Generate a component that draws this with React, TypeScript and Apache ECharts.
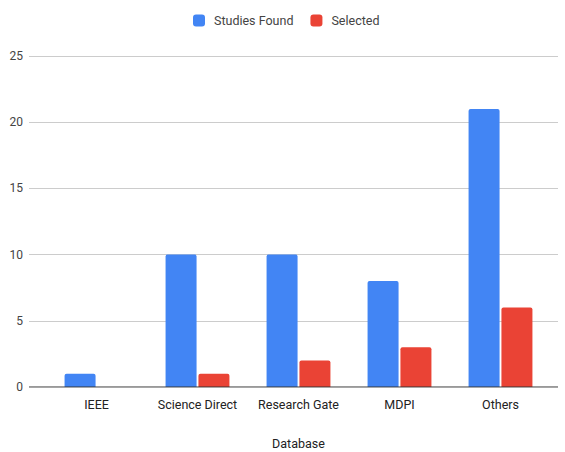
import React, { useEffect, useRef } from "react";
import * as echarts from "echarts";

const categories = ["IEEE", "Science Direct", "Research Gate", "MDPI", "Others"];
const studiesFound = [1, 10, 10, 8, 21];
const selected = [0, 1, 2, 3, 6];
const yMin = 0;
const yMax = 25;
const yInterval = 5;

export default function App() {
  const ref = useRef<HTMLDivElement>(null);
  useEffect(() => {
    if (!ref.current) return;
    const chart = echarts.init(ref.current, undefined, { renderer: "svg" });
    const font = "Roboto, Arial, sans-serif";
    chart.setOption({
      animation: false,
      backgroundColor: "#ffffff",
      textStyle: { fontFamily: font },
      legend: {
        top: 14,
        left: 193,
        padding: 0,
        itemWidth: 12,
        itemHeight: 12,
        itemGap: 17,
        icon: "roundRect",
        textStyle: { fontSize: 12.5, color: "#444444", fontFamily: font, padding: [0, 0, 0, 4] },
        data: ["Studies Found", "Selected"],
      },
      grid: [
        { left: 29, right: 7, top: 56, bottom: 65, containLabel: false, outerBoundsMode: "none" },
        { left: 46, right: 14, top: 56, bottom: 65, containLabel: false, outerBoundsMode: "none" },
      ],
      xAxis: [
        {
          type: "value",
          gridIndex: 0,
          min: 0,
          max: 1,
          axisLine: { show: false },
          axisTick: { show: false },
          axisLabel: { show: false },
          splitLine: { show: false },
        },
        {
          type: "category",
          gridIndex: 1,
          data: categories,
          axisLine: { show: false },
          axisTick: { show: false },
          axisLabel: { interval: 0, fontSize: 12.5, color: "#222222", margin: 11, fontFamily: font },
          name: "Database",
          nameLocation: "middle",
          nameGap: 50,
          nameTextStyle: { fontSize: 12.5, color: "#222222", fontFamily: font },
        },
      ],
      yAxis: [
        {
          type: "value",
          gridIndex: 0,
          min: yMin,
          max: yMax,
          interval: yInterval,
          axisLine: { show: false },
          axisTick: { show: false },
          axisLabel: { fontSize: 12, color: "#444444", margin: 6, fontFamily: font },
          splitLine: { lineStyle: { color: "#cccccc", width: 1 } },
        },
        {
          type: "value",
          gridIndex: 1,
          min: yMin,
          max: yMax,
          interval: yInterval,
          axisLine: { show: false },
          axisTick: { show: false },
          axisLabel: { show: false },
          splitLine: { show: false },
        },
      ],
      series: [
        {
          type: "line",
          xAxisIndex: 0,
          yAxisIndex: 0,
          data: [[0, 0], [1, 0]],
          symbol: "none",
          lineStyle: { color: "#333333", width: 1 },
          silent: true,
          z: 5,
          legendHoverLink: false,
          tooltip: { show: false },
        },
        {
          name: "Studies Found",
          type: "bar",
          xAxisIndex: 1,
          yAxisIndex: 1,
          data: studiesFound,
          barWidth: 31,
          barGap: "6%",
          itemStyle: { color: "#4285F4", borderRadius: [2, 2, 0, 0] },
        },
        {
          name: "Selected",
          type: "bar",
          xAxisIndex: 1,
          yAxisIndex: 1,
          data: selected,
          barWidth: 31,
          barGap: "6%",
          itemStyle: { color: "#EA4335", borderRadius: [2, 2, 0, 0] },
        },
      ],
    });
    return () => chart.dispose();
  }, []);
  return (
    <div
      ref={ref}
      style={{ position: "absolute", left: 0, top: 0, width: 565, height: 452 }}
    />
  );
}
